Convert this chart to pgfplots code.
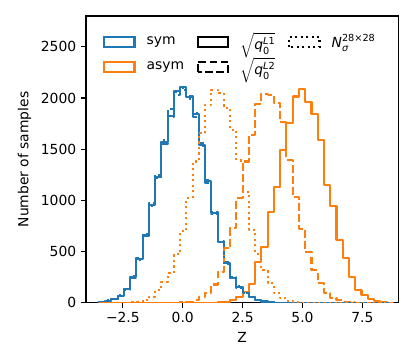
\documentclass[border=0pt]{standalone}
\usepackage{amsmath}
\usepackage{fontspec}
\setmainfont{DejaVu Sans}
\usepackage{pgfplots}
\pgfplotsset{compat=1.18}
\usepackage{pgfplotstable}
\usetikzlibrary{calc}
\definecolor{tabblue}{HTML}{1F77B4}
\definecolor{taborange}{HTML}{FF7F0E}

% bin left edges and counts (last row closes the outline)
\pgfplotstableread{
e      bs   bd   bo   os   od   oo
-3.504 0    0    0    0    0    0
-3.504 5    4    6    0    0    0
-3.243 22   20   24   0    0    0
-2.982 39   42   37   0    0    0
-2.721 71   68   74   0    0    0
-2.460 133  140  128  0    0    2
-2.199 250  240  258  0    0    5
-1.938 426  440  418  0    0    10
-1.676 663  650  672  0    0    27
-1.415 955  975  945  0    0    60
-1.154 1231 1250 1220 0    0    125
-0.893 1572 1555 1585 0    0    206
-0.632 1822 1890 1810 0    0    290
-0.371 2069 2030 2060 0    2    480
-0.110 2108 2080 2095 0    5    700
0.151  2005 2020 1995 0    12   1022
0.412  1839 1810 1850 0    25   1380
0.674  1540 1560 1530 0    55   1658
0.935  1190 1170 1200 0    100  1935
1.196  876  890  865  2    180  2082
1.457  598  590  605  6    304  2045
1.718  386  395  380  13   533  1903
1.979  246  240  252  29   729  1691
2.240  158  150  162  61   1020 1390
2.501  105  100  98   110  1380 1080
2.762  60   62   58   185  1642 712
3.023  30   28   32   395  1945 480
3.285  15   14   13   549  2043 320
3.546  6    5    7    890  2033 191
3.807  2    2    2    1133 1952 93
4.068  0    0    0    1491 1762 44
4.329  0    0    0    1760 1397 18
4.590  0    0    0    2014 1038 8
4.851  0    0    0    2083 719  3
5.112  0    0    0    1958 500  0
5.373  0    0    0    1839 320  0
5.634  0    0    0    1589 191  0
5.896  0    0    0    1150 93   0
6.157  0    0    0    945  44   0
6.418  0    0    0    614  25   0
6.679  0    0    0    441  10   0
6.940  0    0    0    256  4    0
7.201  0    0    0    127  0    0
7.462  0    0    0    78   0    0
7.723  0    0    0    36   0    0
7.984  0    0    0    19   0    0
8.245  0    0    0    6    0    0
8.506  0    0    0    2    0    0
8.767  0    0    0    0    0    0
}\hist

\begin{document}
\begin{tikzpicture}
\begin{axis}[
  scale only axis,
  width=224.9pt, height=206.6pt,
  xmin=-4.04, xmax=9.0,
  ymin=0, ymax=2800,
  axis line style={line width=0.8pt},
  tick align=outside,
  xtick pos=left, ytick pos=left,
  major tick length=3.5pt,
  every tick/.style={black, line width=0.8pt},
  xtick={-2.5,0,2.5,5,7.5},
  xticklabels={−2.5,0.0,2.5,5.0,7.5},
  ytick={0,500,1000,1500,2000,2500},
  yticklabels={0,500,1000,1500,2000,2500},
  tick label style={font=\fontsize{10}{12}\selectfont},
  label style={font=\fontsize{10}{12}\selectfont},
  xlabel={Z}, ylabel={Number of samples},
  legend columns=3,
  legend cell align=left,
  legend style={draw=none, fill=none, at={(0.04,0.963)}, anchor=north west,
    font=\fontsize{10}{12}\selectfont, row sep=0pt,
    /tikz/every odd column/.append style={column sep=6pt},
    /tikz/every even column/.append style={column sep=7pt}},
  hist/.style={const plot, line width=1.5pt, line join=round, mark=none, forget plot},
  box/.style={legend image code/.code={\draw[##1] (0pt,-3.7pt) rectangle (22pt,3.7pt);}},
  dashpat/.style={dash pattern=on 5.55pt off 2.4pt},
  dotpat/.style={dash pattern=on 1.5pt off 2.475pt},
]
\addplot[hist, tabblue] table[x=e, y=bs] {\hist};
\addplot[hist, taborange] table[x=e, y=os] {\hist};
\addplot[hist, tabblue, dashpat] table[x=e, y=bd] {\hist};
\addplot[hist, taborange, dashpat] table[x=e, y=od] {\hist};
\addplot[hist, tabblue, dotpat] table[x=e, y=bo] {\hist};
\addplot[hist, taborange, dotpat] table[x=e, y=oo] {\hist};

\addlegendimage{box, draw=tabblue, line width=1.5pt}
\addlegendentry{sym}
\addlegendimage{box, draw=black, line width=1.5pt}
\addlegendentry{$\sqrt{\textit{q}_{\text{0}}^{\textit{L}\text{1}}}$}
\addlegendimage{box, draw=black, line width=1.5pt, dotpat}
\addlegendentry{$\textit{N}_{\textit{σ}}^{\text{28×28}}$}
\addlegendimage{box, draw=taborange, line width=1.5pt}
\addlegendentry{asym}
\addlegendimage{box, draw=black, line width=1.5pt, dashpat}
\addlegendentry{$\sqrt{\textit{q}_{\text{0}}^{\textit{L}\text{2}}}$}
\end{axis}
\pgfresetboundingbox
\path ($(current axis.south west)+(-61.9pt,-33.1pt)$) rectangle ($(current axis.north east)+(12pt,11.5pt)$);
\end{tikzpicture}
\end{document}
